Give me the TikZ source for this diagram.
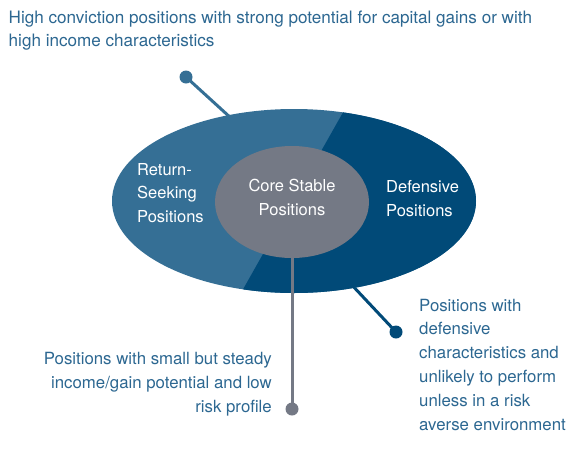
\documentclass[tikz,border=0pt]{standalone}
\usepackage{fontspec}
\setmainfont{TeX Gyre Heros}
\usetikzlibrary{shapes.geometric}
\definecolor{lightblue}{HTML}{356F95}
\definecolor{darkblue}{HTML}{014A78}
\definecolor{coregray}{HTML}{747985}
\definecolor{textblue}{HTML}{2C6791}
\begin{document}
\begin{tikzpicture}[x=1pt,y=-1pt,
  lbl/.style={font=\fontsize{16.8}{24}\selectfont, text=textblue, inner sep=0pt},
  inlbl/.style={font=\fontsize{16.5}{23.5}\selectfont, text=white, inner sep=0pt},
  dotmark/.style={circle, fill=#1, minimum size=13pt, inner sep=0pt},
  conn/.style={line width=3pt, draw=#1}]
\useasboundingbox (0,0) rectangle (584,448);
% connectors (behind ellipse)
\node[dotmark=lightblue] (d1) at (186,77) {};
\coordinate (e1) at (232,119);
\node[dotmark=darkblue] (d2) at (396,332) {};
\coordinate (e2) at (350,283);
\node[dotmark=coregray] (d3) at (292,409) {};
\draw[conn=lightblue] (d1.center) -- (e1);
\draw[conn=darkblue] (d2.center) -- (e2);
% outer ellipse
\node[ellipse, minimum width=364pt, minimum height=184pt, inner sep=0pt] (outer) at (294,201) {};
\begin{scope}
\clip (294,201) ellipse [x radius=182, y radius=92];
\fill[lightblue] (100,100) rectangle (490,300);
\fill[darkblue] (350,100) -- (490,100) -- (490,300) -- (237,300) -- cycle;
\end{scope}
% inner ellipse
\node[ellipse, fill=coregray, minimum width=154pt, minimum height=112pt, inner sep=0pt] (core) at (292,202) {};
\draw[conn=coregray] (core.south) -- (d3.center);
% labels (base anchor = baseline of last line)
\node[inlbl, align=left, anchor=base west] (ret) at (137,222) {Return-\\Seeking\\Positions};
\node[inlbl, align=center, anchor=base] (cor) at (292,215) {Core Stable\\Positions};
\node[inlbl, align=left, anchor=base west] (def) at (386,216) {Defensive\\Positions};
\node[lbl, align=left, anchor=base west, font=\fontsize{17.1}{23.5}\selectfont] (t1) at (8.5,46.5) {High conviction positions with strong potential for capital gains or with\\high income characteristics};
\node[lbl, align=right, anchor=base east] (t2) at (272,412) {Positions with small but steady\\income/gain potential and low\\risk profile};
\node[lbl, align=left, anchor=base west, font=\fontsize{16.8}{23.8}\selectfont] (t3) at (419,430) {Positions with\\defensive\\characteristics and\\unlikely to perform\\unless in a risk\\averse environment};
\end{tikzpicture}
\end{document}
